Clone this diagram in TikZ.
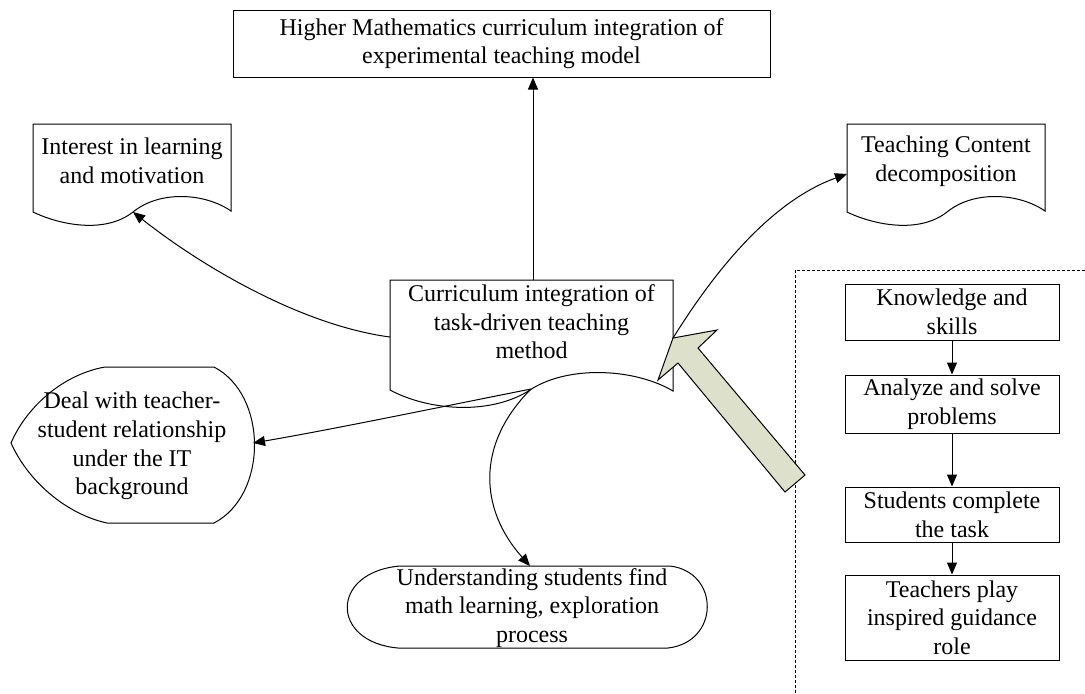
\documentclass[tikz,border=0pt]{standalone}
\usepackage{fontspec}
\setmainfont{Liberation Serif}
\usetikzlibrary{arrows.meta,positioning,calc}
\definecolor{bigarrow}{RGB}{221,225,204}

\begin{document}
\begin{tikzpicture}[
  x=0.5pt, y=-0.5pt, line width=0.5pt,
  txt/.style={align=center, font=\fontsize{12}{14.3}\selectfont, inner sep=0pt},
  box/.style={txt, draw, minimum width=107pt},
  arr/.style={-{Triangle[length=6pt,width=5pt]}},
  paper/.pic={\draw (0,0) -- (198,0) -- (198,87) .. controls (172,69) and (127,66) .. (100,88) .. controls (72,110) and (27,101) .. (0,88) -- cycle;}
]
\useasboundingbox (0,0) rectangle (1085,693);

% top goal
\node[box, minimum width=268.5pt, minimum height=33.5pt] (goal) at (501.5,43.5) {Higher Mathematics curriculum integration of\\experimental teaching model};

% central document
\draw (390,280) -- (673,280) -- (673,391) .. controls (636,369) and (572,365) .. (533,388) .. controls (493,416) and (429,411) .. (390,390) -- cycle;
\node[txt] (task) at (531.5,322) {Curriculum integration of\\task-driven teaching\\method};
\coordinate (taskT) at (533,280);
\coordinate (taskL) at (390,337);
\coordinate (taskR) at (673,338);
\coordinate (taskB) at (531,389);

% side documents
\pic at (33,124) {paper};
\node[txt] (interest) at (132,161) {Interest in learning\\and motivation};
\coordinate (interestB) at (133,212);
\pic at (847,124) {paper};
\node[txt] (content) at (946,161) {Teaching Content\\decomposition};
\coordinate (contentL) at (847,174);

% display shape
\draw (105,367) -- (214,367) .. controls (268,395) and (268,495) .. (214,523) -- (107,523) .. controls (70,515) and (30,485) .. (11,443) .. controls (25,410) and (60,375) .. cycle;
\node[txt] (deal) at (132,446) {Deal with teacher-\\student relationship\\under the IT\\background};
\coordinate (dealR) at (253,443);

% stored data shape
\draw (400,566) -- (670,566) .. controls (720,572) and (720,642) .. (668,648) -- (398,648) .. controls (330,642) and (330,572) .. cycle;
\node[txt] (underst) at (532,608) {Understanding students find\\math learning, exploration\\process};
\coordinate (understT) at (530,566);

% right column
\draw[dash pattern=on 1.5pt off 1pt] (1085,270) -- (795,270) -- (795,693);
\node[box, minimum height=28pt] (k1) at (952,312) {Knowledge and\\skills};
\node[box, minimum height=29pt] (k2) at (952,404) {Analyze and solve\\problems};
\node[box, minimum height=27.5pt] (k3) at (952,514.5) {Students complete\\the task};
\node[box, minimum height=42.5pt] (k4) at (952,617.5) {Teachers play\\inspired guidance\\role};
\draw[arr] (k1) -- (k2);
\draw[arr] (k2) -- (k3);
\draw[arr] (k3) -- (k4);

% connectors
\draw[arr] (taskT) -- (taskT |- goal.south);
\draw[arr] (taskL) .. controls (300,325) and (200,265) .. (interestB);
\draw[arr] (taskR) .. controls (700,295) and (760,205) .. (contentL);
\draw[arr] (taskB) .. controls (450,405) and (340,428) .. (dealR);
\draw[arr] (taskB) .. controls (475,445) and (480,510) .. (understT);

% big arrow
\draw[fill=bigarrow] (673,338) -- (717,330) -- (698,348) -- (805,475) -- (785,492) -- (678,363) -- (658,380) -- cycle;
\end{tikzpicture}
\end{document}
